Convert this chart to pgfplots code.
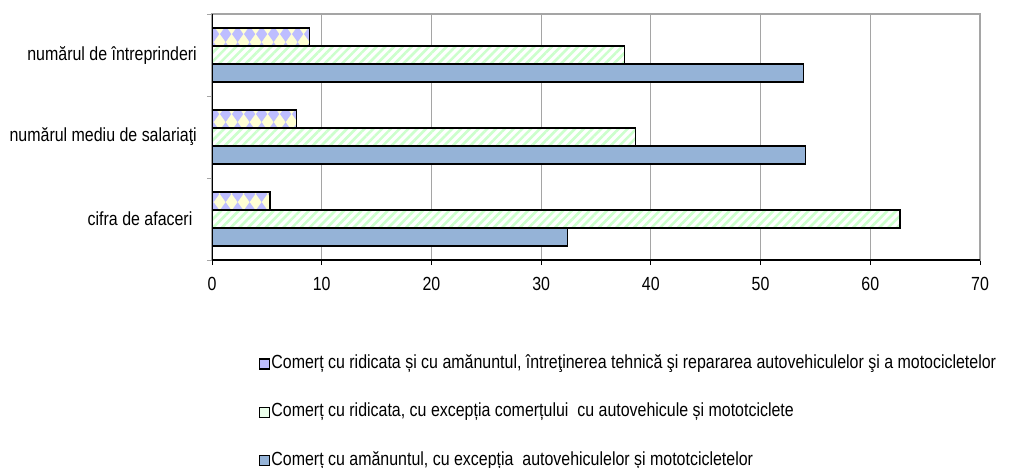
\documentclass[border=0pt]{standalone}
\usepackage{fontspec}
\setmainfont{Liberation Sans}[FakeStretch=0.84]
\usepackage{pgfplots}
\pgfplotsset{compat=1.18}
\usetikzlibrary{patterns.meta}
\definecolor{barblue}{RGB}{149,179,215}
\definecolor{lav}{RGB}{190,190,255}
\definecolor{lyel}{RGB}{255,255,212}
\definecolor{lgreen}{RGB}{204,255,204}
\definecolor{gridgray}{RGB}{165,165,165}
\pgfdeclarepattern{
  name=diamonds,
  type=uncolored,
  bottom left={\pgfpoint{0pt}{0pt}},
  top right={\pgfpoint{11.6pt}{16.4pt}},
  tile size={\pgfpoint{11.6pt}{16.4pt}},
  tile transformation={\pgftransformshift{\pgfpoint{0pt}{3.6pt}}},
  code={
    \pgfpathmoveto{\pgfpoint{5.8pt}{0pt}}
    \pgfpathlineto{\pgfpoint{11.6pt}{8.2pt}}
    \pgfpathlineto{\pgfpoint{5.8pt}{16.4pt}}
    \pgfpathlineto{\pgfpoint{0pt}{8.2pt}}
    \pgfpathclose
    \pgfusepath{fill}
  }
}
\begin{document}
\begin{tikzpicture}[x=1pt,y=1pt,font=\fontsize{19}{22}\selectfont]
\useasboundingbox (0,0) rectangle (1009,467);
\begin{axis}[
  at={(212pt,207pt)}, anchor=south west,
  scale only axis, width=768pt, height=246pt,
  xmin=0, xmax=70, ymin=-0.5, ymax=2.5,
  xtick={0,10,...,70},
  xmajorgrids, grid style={gridgray, line width=0.9pt},
  ytick={-0.5,0.5,1.5,2.5},
  yticklabels={,,,},
  extra y ticks={0,1,2},
  extra y tick labels={cifra de afaceri\ \ ,numărul mediu de salariaţi,numărul de întreprinderi},
  extra y tick style={tick style={draw=none}, grid=none},
  tick align=outside, tick pos=left,
  major tick length=5pt,
  ytick style={gridgray, line width=0.9pt},
  xtick style={black, line width=0.9pt},
  yticklabel style={anchor=east, inner sep=0pt, xshift=-10pt},
  xticklabel style={inner sep=0pt, anchor=north, yshift=-12pt},
  /pgf/number format/assume math mode=true,
  axis line style={gridgray, line width=1.3pt},
  legend style={at={(0.057,-0.37)}, anchor=north west, draw=none, fill=none,
    row sep=31pt, nodes={inner sep=1pt},
    /tikz/every even column/.append style={column sep=1pt}},
  legend cell align=left,
]
\addlegendimage{legend image code/.code={\draw[fill=lav, draw=black, line width=1.4pt] (0pt,-7pt) rectangle (10pt,3pt);}}
\addlegendimage{legend image code/.code={\draw[fill=lgreen!40!white, draw=black, line width=1.4pt] (0pt,-7pt) rectangle (10pt,3pt);}}
\addlegendimage{legend image code/.code={\draw[fill=barblue, draw=black, line width=1.4pt] (0pt,-7pt) rectangle (10pt,3pt);}}
\addplot[forget plot, xbar, bar width=18pt, bar shift=18pt, draw=black, line width=1.4pt,
  preaction={fill=lyel}, preaction={pattern=diamonds, pattern color=lav}]
  coordinates {(5.3,0) (7.7,1) (8.9,2)};
\addplot[forget plot, xbar, bar width=18pt, bar shift=0pt, draw=black, line width=1.4pt,
  preaction={fill=white}, preaction={pattern={Lines[angle=45,distance=6.2pt,line width=2.6pt]}, pattern color=lgreen}]
  coordinates {(62.7,0) (38.6,1) (37.6,2)};
\addplot[forget plot, xbar, bar width=18pt, bar shift=-18pt, draw=black, line width=1.4pt, fill=barblue]
  coordinates {(32.4,0) (54.1,1) (53.9,2)};
\legend{Comerț cu ridicata și cu amănuntul{,} întreţinerea tehnică şi repararea autovehiculelor şi a motocicletelor,
  Comerț cu ridicata{,} cu excepția comerțului \ cu autovehicule și mototciclete,
  Comerț cu amănuntul{,} cu excepția \ autovehiculelor și mototcicletelor}
\draw[black, line width=1.3pt] (rel axis cs:0,1) -- (rel axis cs:0,0) -- (rel axis cs:1,0);
\end{axis}
\end{tikzpicture}
\end{document}
